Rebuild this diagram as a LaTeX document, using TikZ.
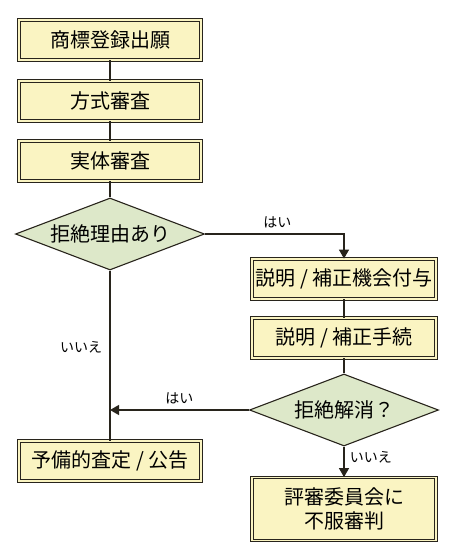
\documentclass[tikz,border=0pt]{standalone}
\usepackage{fontspec}
\setmainfont{Noto Sans CJK JP}
\usetikzlibrary{arrows.meta, positioning, shapes.geometric}
\definecolor{boxfill}{RGB}{250,244,194}
\definecolor{diafill}{RGB}{221,232,201}
\definecolor{edgecol}{RGB}{40,36,28}

\begin{document}
\begin{tikzpicture}[x=1pt,y=1pt,on grid,>={Triangle[length=9pt,width=10pt]},
      line width=1.3pt,
      every node/.style={font=\fontsize{20}{24}\selectfont},
      stepbox/.style={rectangle,draw=edgecol,line width=0.8pt,double=boxfill,double distance=1.8pt,
        fill=boxfill,minimum width=182pt,minimum height=40pt,inner sep=0pt,align=center},
      decision/.style={diamond,draw=edgecol,line width=1.1pt,fill=diafill,aspect=2.6,
        minimum width=189pt,minimum height=72pt,inner sep=0pt},
      answer/.style={font=\fontsize{14}{16}\selectfont}]
      \useasboundingbox (0,0) rectangle (450,-560);
      \node[stepbox]   (apply)  at (110,-40) {商標登録出願};
      \node[stepbox]   (formal) [below=61pt of apply] {方式審査};
      \node[stepbox]   (subst)  [below=60pt of formal] {実体審査};
      \node[decision]  (reason) [below=73pt of subst] {拒絶理由あり};
      \node[stepbox,minimum width=184pt] (chance) [below right=45pt and 234pt of reason] {説明 / 補正機会付与};
      \node[stepbox,minimum width=184pt] (amend)  [below=59pt of chance] {説明 / 補正手続};
      \node[decision]  (solved) [below=72pt of amend] {拒絶解消？};
      \node[stepbox]   (publish) [below=227pt of reason] {予備的査定 / 公告};
      \node[stepbox,minimum width=184pt,minimum height=63pt] (appeal) [below=99pt of solved] {評審委員会に\\不服審判};
      \coordinate (join) at (reason.south |- solved.west);
      \path[draw=edgecol]
      (apply) edge (formal)
      (formal) edge (subst)
      (subst) edge (reason)
      (chance) edge (amend)
      (amend) edge (solved)
      (reason) edge node [answer,left,xshift=-4pt,pos=0.45] {いいえ} (publish);
      \draw[->,draw=edgecol] (reason.east) -| node [answer,above,pos=0.26,yshift=2pt] {はい} (chance.north);
      \draw[->,draw=edgecol] (solved.west) -- node [answer,above,yshift=2pt] {はい} (join);
      \draw[->,draw=edgecol] (solved.south) -- node [answer,right,xshift=2pt,pos=0.35] {いいえ} (appeal.north);
    \end{tikzpicture}
\end{document}
